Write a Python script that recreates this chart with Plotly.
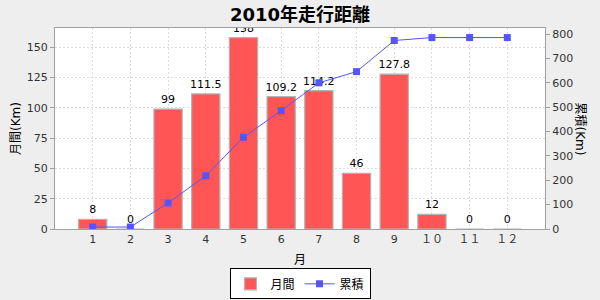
import plotly.graph_objects as go

months = [1, 2, 3, 4, 5, 6, 7, 8, 9, 10, 11, 12]
month_labels = ["1", "2", "3", "4", "5", "6", "7", "8", "9", "１０", "１１", "１２"]
monthly = [8, 0, 99, 111.5, 158, 109.2, 114.2, 46, 127.8, 12, 0, 0]
cumulative = [8, 8, 107, 218.5, 376.5, 485.7, 599.9, 645.9, 773.7, 785.7, 785.7, 785.7]
bar_text = ["8", "0", "99", "111.5", "158", "109.2", "114.2", "46", "127.8", "12", "0", "0"]

FONT = "DejaVu Sans, Noto Sans CJK JP, sans-serif"

fig = go.Figure()
fig.add_trace(go.Bar(
    x=months, y=monthly, name="月間", width=0.75,
    marker=dict(color="#FF5555", line=dict(color="#B4B4B4", width=1.2)),
    text=bar_text, textposition="outside", cliponaxis=True, constraintext="none",
    textfont=dict(size=11, color="#000000", family=FONT),
))
fig.add_trace(go.Scatter(
    x=months, y=cumulative, name="累積", yaxis="y2", mode="lines+markers",
    line=dict(color="#5555FF", width=1),
    marker=dict(symbol="square", size=7, color="#5555FF"),
))

fig.update_layout(
    width=600, height=300,
    margin=dict(l=55, r=55, t=28, b=71, autoexpand=False),
    paper_bgcolor="#EEEEEE", plot_bgcolor="#FFFFFF",
    font=dict(family=FONT, size=11, color="#333333"),
    title=dict(text="<b>2010年走行距離</b>", x=0.5, xanchor="center", y=0.95, yanchor="middle",
               font=dict(size=18, color="#000000", family=FONT)),
    bargap=0.25,
    showlegend=True,
    legend=dict(orientation="h", x=0.5, xanchor="center", y=-0.35, yanchor="bottom",
                bordercolor="#000000", borderwidth=1, bgcolor="#FFFFFF",
                font=dict(size=12, color="#000000", family=FONT),
                itemwidth=30, traceorder="normal", tracegroupgap=0),
    xaxis=dict(
        range=[0, 13], tickmode="array", tickvals=months, ticktext=month_labels,
        showgrid=True, gridcolor="#DCDCDC", griddash="2px,2px", gridwidth=1,
        showline=True, linecolor="#A0A0A0", mirror=True, linewidth=1,
        ticks="", tickfont=dict(size=11, color="#333333"),
        title=dict(text="月", font=dict(size=12, color="#000000"), standoff=10),
        zeroline=False,
    ),
    yaxis=dict(
        range=[0, 165.9], dtick=25, tick0=0,
        showgrid=True, gridcolor="#DCDCDC", griddash="2px,2px", gridwidth=1,
        showline=True, linecolor="#A0A0A0", mirror=True, linewidth=1,
        ticks="outside", ticklen=4, tickcolor="#A0A0A0",
        tickfont=dict(size=11, color="#333333"),
        title=dict(text="月間(Km)", font=dict(size=12, color="#000000"), standoff=3),
        zeroline=False,
    ),
    yaxis2=dict(
        range=[0, 825], dtick=100, tick0=0, overlaying="y", side="right",
        showgrid=False, showline=True, linecolor="#A0A0A0", linewidth=1,
        ticks="outside", ticklen=4, tickcolor="#A0A0A0",
        tickfont=dict(size=11, color="#333333"), zeroline=False,
    ),
    annotations=[dict(
        text="累積(Km)", textangle=90, xref="paper", yref="paper",
        x=1.0, xshift=35, xanchor="center", y=0.5, yanchor="middle",
        showarrow=False, font=dict(size=12, color="#000000", family=FONT),
    )],
)

fig.write_html("out.html")
